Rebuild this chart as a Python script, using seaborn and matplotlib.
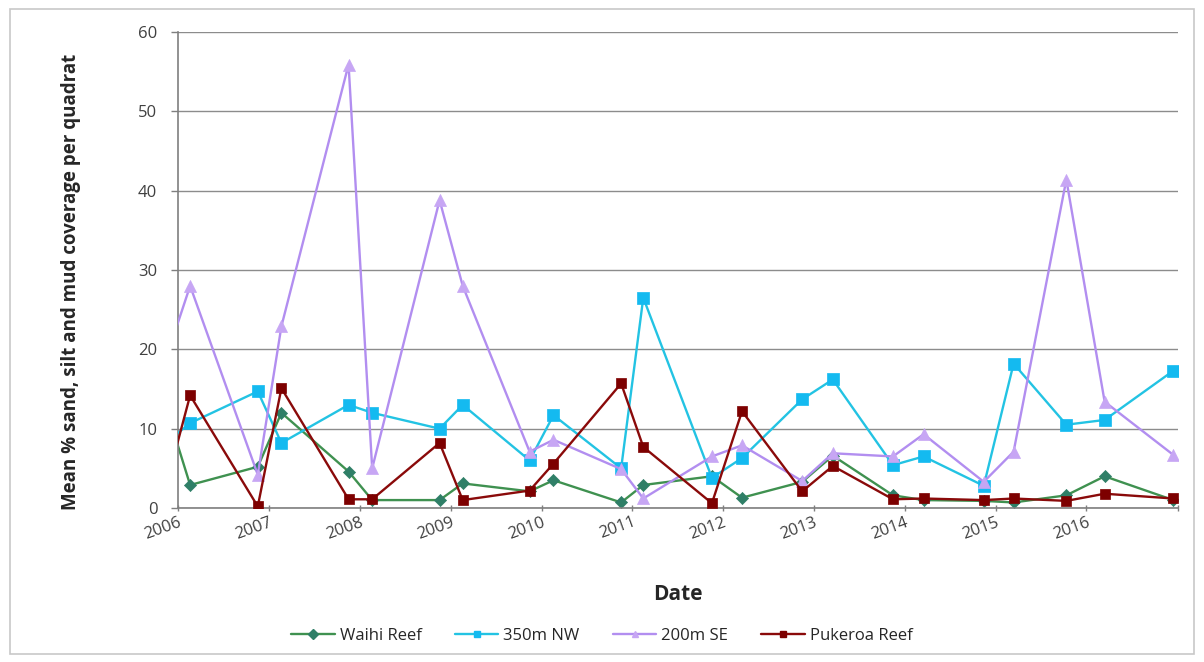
import matplotlib
matplotlib.use('Agg')
import matplotlib.pyplot as plt
import matplotlib.dates as mdates
import matplotlib.lines as mlines
from matplotlib.patches import Rectangle
import seaborn as sns
import numpy as np
import pandas as pd

# sampling dates (first one sits just before the axis start, so the lines run in from the edge)
dates = ["2005-11-15", "2006-02-18", "2006-11-17", "2007-02-20", "2007-11-17", "2008-02-20",
         "2008-11-17", "2009-02-18", "2009-11-14", "2010-02-18", "2010-11-17", "2011-02-14",
         "2011-11-17", "2012-03-17", "2012-11-14", "2013-03-17", "2013-11-14", "2014-03-17",
         "2014-11-14", "2015-03-14", "2015-10-12", "2016-03-14", "2016-12-15"]

waihi   = [12.5, 2.9, 5.2, 12.0, 4.6, 1.0, 1.0, 3.1, 2.1, 3.5, 0.7, 2.9,
           4.0, 1.3, 3.3, 6.6, 1.6, 1.0, 0.9, 0.7, 1.6, 4.0, 1.0]
nw350   = [8.3, 10.7, 14.7, 8.2, 13.0, 12.0, 10.0, 13.0, 6.0, 11.7, 5.0, 26.5,
           3.8, 6.3, 13.7, 16.2, 5.4, 6.5, 2.8, 18.2, 10.5, 11.1, 17.3]
se200   = [19.0, 28.0, 4.2, 22.9, 55.9, 5.0, 38.8, 28.0, 7.1, 8.6, 4.9, 1.2,
           6.5, 7.9, 3.4, 6.9, 6.5, 9.3, 3.3, 7.1, 41.4, 13.4, 6.7]
pukeroa = [3.0, 14.2, 0.2, 15.1, 1.1, 1.1, 8.2, 1.0, 2.2, 5.6, 15.7, 7.7,
           0.6, 12.2, 2.1, 5.3, 1.1, 1.2, 1.0, 1.2, 0.9, 1.8, 1.2]

series_names = ["Waihi Reef", "350m NW", "200m SE", "Pukeroa Reef"]
year_ticks = list(range(2006, 2018))
y_ticks = [0, 10, 20, 30, 40, 50, 60]

df = pd.DataFrame({"Date": pd.to_datetime(dates),
                   "Waihi Reef": waihi, "350m NW": nw350,
                   "200m SE": se200, "Pukeroa Reef": pukeroa})
long_df = df.melt(id_vars="Date", var_name="Site", value_name="Cover")

styles = {
    "Waihi Reef":   dict(color="#3f9150", mfc="#2f7f67", marker="D", s=38, lw=1.7),
    "350m NW":      dict(color="#23c3e3", mfc="#14baf0", marker="s", s=80, lw=1.7),
    "200m SE":      dict(color="#b28ef0", mfc="#c7a6f4", marker="^", s=75, lw=1.7),
    "Pukeroa Reef": dict(color="#8a0a0a", mfc="#7d0000", marker="s", s=62, lw=1.7),
}

sns.set_style("white")
plt.rcParams['font.family'] = ['Open Sans', 'DejaVu Sans']

fig = plt.figure(figsize=(12.04, 6.62), dpi=100)
ax = fig.add_axes([0.148, 0.2326, 0.830, 0.7191])

legend_handles = []
for i, name in enumerate(series_names):
    st = styles[name]
    sub = long_df[long_df["Site"] == name]
    sns.lineplot(data=sub, x="Date", y="Cover", ax=ax, color=st["color"], lw=st["lw"],
                 legend=False, zorder=2 + i)
    sns.scatterplot(data=sub, x="Date", y="Cover", ax=ax, color=st["mfc"],
                    marker=st["marker"], s=st["s"], edgecolor=st["mfc"], linewidth=0.5,
                    legend=False, zorder=2 + i)
    legend_handles.append(mlines.Line2D([], [], color=st["color"], lw=st["lw"],
                                        marker=st["marker"], markersize=5,
                                        markerfacecolor=st["mfc"], markeredgecolor=st["mfc"],
                                        label=name))

ax.set_xlim(pd.Timestamp("2006-01-01"), pd.Timestamp("2017-01-01"))
ax.set_ylim(0, 60)
ax.set_yticks(y_ticks)
ax.set_xticks([pd.Timestamp(f"{y}-01-01") for y in year_ticks])
ax.xaxis.set_major_formatter(mdates.DateFormatter("%Y"))
labels = [str(y) for y in year_ticks]
labels[-1] = ""
ax.set_xticklabels(labels)

ax.yaxis.grid(True, color="#8c8c8c", lw=1.0)
ax.xaxis.grid(False)
ax.set_axisbelow(True)
for s in ["top", "right"]:
    ax.spines[s].set_visible(False)
ax.spines["left"].set_color("#7f7f7f")
ax.spines["bottom"].set_color("#7f7f7f")
ax.spines["left"].set_linewidth(1.2)
ax.spines["bottom"].set_linewidth(1.2)
ax.tick_params(axis="y", length=5, width=1, color="#7f7f7f", labelsize=12,
               labelcolor="#404040", left=True, pad=10)
ax.tick_params(axis="x", length=5, width=1, color="#7f7f7f", labelsize=12,
               labelcolor="#404040", bottom=True, direction="inout", pad=2)
plt.setp(ax.get_xticklabels(), rotation=20, ha="right", rotation_mode="anchor")

ax.set_xlabel("Date", fontsize=15, fontweight="bold", labelpad=30)
ax.set_ylabel("Mean % sand, silt and mud coverage per quadrat", fontsize=13.5,
              fontweight="bold")
ax.yaxis.set_label_coords(-0.097, 0.475)

ax.legend(handles=legend_handles, loc="center", bbox_to_anchor=(0.5, 0.039),
          bbox_transform=fig.transFigure, ncol=4, frameon=False, fontsize=12,
          handlelength=2.6, handletextpad=0.3, columnspacing=2.0)

fig.patches.append(Rectangle((0.008, 0.012), 0.984, 0.975, transform=fig.transFigure,
                             fill=False, edgecolor="#c8c8c8", lw=1.2))

fig.savefig("out.png", dpi=100)
plt.close(fig)
